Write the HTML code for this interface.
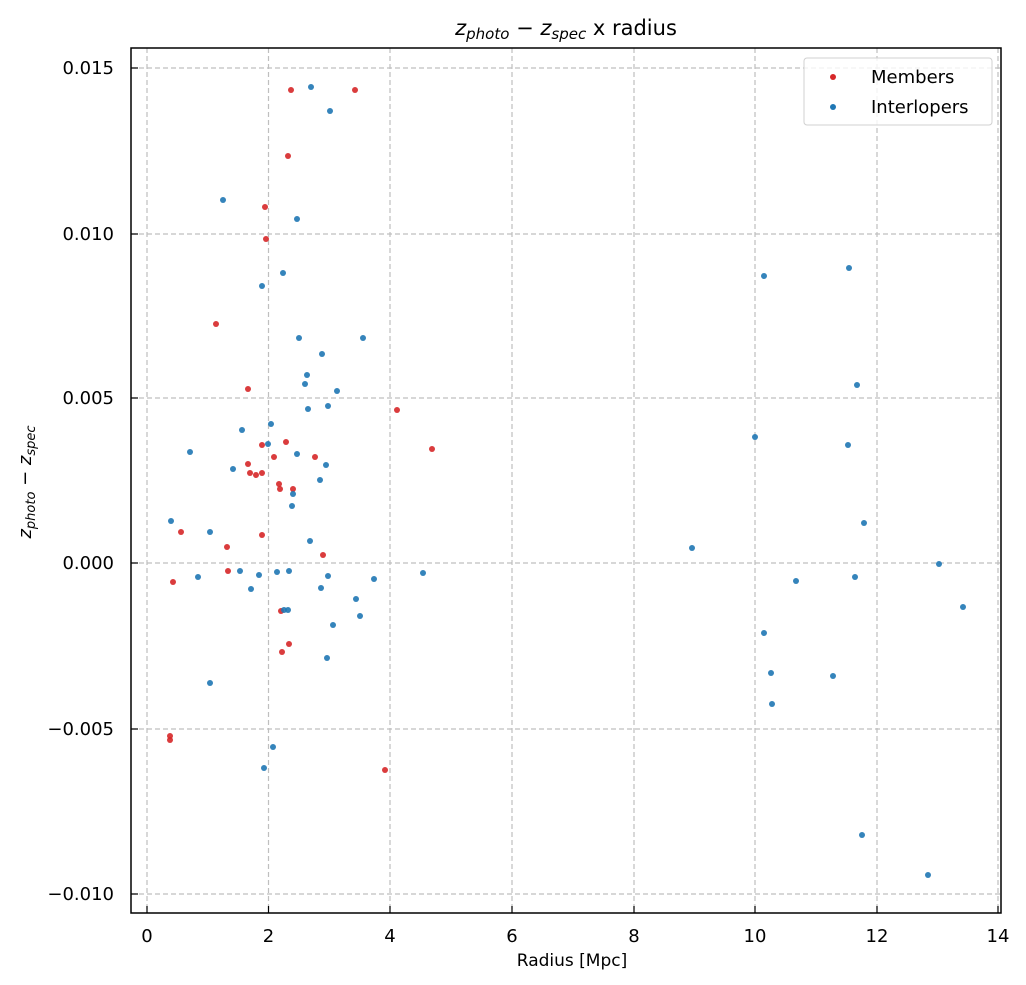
<!DOCTYPE html>
<html><head><meta charset="utf-8"><style>body{margin:0;background:#fff}svg{display:block}text{font-family:"DejaVu Sans","Liberation Sans",sans-serif;fill:#000}</style></head><body>
<svg width="1026" height="985" viewBox="0 0 1026 985" xmlns="http://www.w3.org/2000/svg">
<rect width="1026" height="985" fill="#fff"/>
<g stroke="#bfbfbf" stroke-width="1.2" stroke-dasharray="5,3">
<line x1="147" y1="48" x2="147" y2="913"/><line x1="268.5" y1="48" x2="268.5" y2="913"/><line x1="390" y1="48" x2="390" y2="913"/><line x1="512" y1="48" x2="512" y2="913"/><line x1="634" y1="48" x2="634" y2="913"/><line x1="755" y1="48" x2="755" y2="913"/><line x1="877" y1="48" x2="877" y2="913"/><line x1="998" y1="48" x2="998" y2="913"/>
<line x1="131" y1="68" x2="1001" y2="68"/><line x1="131" y1="234" x2="1001" y2="234"/><line x1="131" y1="398" x2="1001" y2="398"/><line x1="131" y1="563" x2="1001" y2="563"/><line x1="131" y1="729" x2="1001" y2="729"/><line x1="131" y1="894" x2="1001" y2="894"/>
</g>
<g fill="#d62728" fill-opacity="0.9">
<circle cx="291" cy="90" r="3"/><circle cx="355" cy="90" r="3"/><circle cx="288" cy="156" r="3"/><circle cx="265" cy="207" r="3"/><circle cx="266" cy="239" r="3"/><circle cx="216" cy="324" r="3"/><circle cx="248" cy="389" r="3"/><circle cx="397" cy="410" r="3"/><circle cx="432" cy="449" r="3"/><circle cx="262" cy="445" r="3"/><circle cx="286" cy="442" r="3"/><circle cx="274" cy="457" r="3"/><circle cx="315" cy="457" r="3"/><circle cx="248" cy="464" r="3"/><circle cx="250" cy="473" r="3"/><circle cx="256" cy="475" r="3"/><circle cx="262" cy="473" r="3"/><circle cx="279" cy="484" r="3"/><circle cx="280" cy="489" r="3"/><circle cx="293" cy="489" r="3"/><circle cx="262" cy="535" r="3"/><circle cx="227" cy="547" r="3"/><circle cx="181" cy="532" r="3"/><circle cx="323" cy="555" r="3"/><circle cx="228" cy="571" r="3"/><circle cx="173" cy="582" r="3"/><circle cx="281" cy="611" r="3"/><circle cx="289" cy="644" r="3"/><circle cx="282" cy="652" r="3"/><circle cx="170" cy="736" r="3"/><circle cx="170" cy="740" r="3"/><circle cx="385" cy="770" r="3"/>
</g>
<g fill="#1f77b4" fill-opacity="0.9">
<circle cx="311" cy="87" r="3"/><circle cx="330" cy="111" r="3"/><circle cx="223" cy="200" r="3"/><circle cx="297" cy="219" r="3"/><circle cx="283" cy="273" r="3"/><circle cx="262" cy="286" r="3"/><circle cx="299" cy="338" r="3"/><circle cx="363" cy="338" r="3"/><circle cx="322" cy="354" r="3"/><circle cx="307" cy="375" r="3"/><circle cx="305" cy="384" r="3"/><circle cx="337" cy="391" r="3"/><circle cx="328" cy="406" r="3"/><circle cx="308" cy="409" r="3"/><circle cx="242" cy="430" r="3"/><circle cx="271" cy="424" r="3"/><circle cx="190" cy="452" r="3"/><circle cx="268" cy="444" r="3"/><circle cx="297" cy="454" r="3"/><circle cx="326" cy="465" r="3"/><circle cx="233" cy="469" r="3"/><circle cx="320" cy="480" r="3"/><circle cx="293" cy="494" r="3"/><circle cx="292" cy="506" r="3"/><circle cx="171" cy="521" r="3"/><circle cx="210" cy="532" r="3"/><circle cx="310" cy="541" r="3"/><circle cx="198" cy="577" r="3"/><circle cx="240" cy="571" r="3"/><circle cx="259" cy="575" r="3"/><circle cx="277" cy="572" r="3"/><circle cx="289" cy="571" r="3"/><circle cx="251" cy="589" r="3"/><circle cx="328" cy="576" r="3"/><circle cx="321" cy="588" r="3"/><circle cx="374" cy="579" r="3"/><circle cx="423" cy="573" r="3"/><circle cx="356" cy="599" r="3"/><circle cx="360" cy="616" r="3"/><circle cx="284" cy="610" r="3"/><circle cx="288" cy="610" r="3"/><circle cx="333" cy="625" r="3"/><circle cx="327" cy="658" r="3"/><circle cx="210" cy="683" r="3"/><circle cx="273" cy="747" r="3"/><circle cx="264" cy="768" r="3"/>
<circle cx="849" cy="268" r="3"/><circle cx="764" cy="276" r="3"/><circle cx="857" cy="385" r="3"/><circle cx="755" cy="437" r="3"/><circle cx="848" cy="445" r="3"/><circle cx="864" cy="523" r="3"/><circle cx="692" cy="548" r="3"/><circle cx="855" cy="577" r="3"/><circle cx="796" cy="581" r="3"/><circle cx="939" cy="564" r="3"/><circle cx="963" cy="607" r="3"/><circle cx="764" cy="633" r="3"/><circle cx="771" cy="673" r="3"/><circle cx="833" cy="676" r="3"/><circle cx="772" cy="704" r="3"/><circle cx="862" cy="835" r="3"/><circle cx="928" cy="875" r="3"/>
</g>
<rect x="131" y="48" width="870" height="865" fill="none" stroke="#000" stroke-width="1.5"/>
<g stroke="#000" stroke-width="1.2">
<line x1="147" y1="913" x2="147" y2="906"/><line x1="268.5" y1="913" x2="268.5" y2="906"/><line x1="390" y1="913" x2="390" y2="906"/><line x1="512" y1="913" x2="512" y2="906"/><line x1="634" y1="913" x2="634" y2="906"/><line x1="755" y1="913" x2="755" y2="906"/><line x1="877" y1="913" x2="877" y2="906"/><line x1="998" y1="913" x2="998" y2="906"/>
<line x1="131" y1="68" x2="138" y2="68"/><line x1="131" y1="234" x2="138" y2="234"/><line x1="131" y1="398" x2="138" y2="398"/><line x1="131" y1="563" x2="138" y2="563"/><line x1="131" y1="729" x2="138" y2="729"/><line x1="131" y1="894" x2="138" y2="894"/>
</g>
<g font-size="18" text-anchor="middle">
<text x="147" y="942">0</text><text x="268.5" y="942">2</text><text x="390" y="942">4</text><text x="512" y="942">6</text><text x="634" y="942">8</text><text x="755" y="942">10</text><text x="877" y="942">12</text><text x="998" y="942">14</text>
</g>
<g font-size="18" text-anchor="end">
<text x="114" y="74">0.015</text><text x="114" y="240">0.010</text><text x="114" y="404">0.005</text><text x="114" y="569">0.000</text><text x="114" y="735">−0.005</text><text x="114" y="900">−0.010</text>
</g>
<text x="572" y="966" font-size="17" text-anchor="middle">Radius [Mpc]</text>
<text x="566" y="35" font-size="21" text-anchor="middle"><tspan font-style="italic">z</tspan><tspan font-style="italic" font-size="15" dy="4">photo</tspan><tspan dy="-4"> − </tspan><tspan font-style="italic">z</tspan><tspan font-style="italic" font-size="15" dy="4">spec</tspan><tspan dy="-4"> x radius</tspan></text>
<text transform="translate(31,482) rotate(-90)" font-size="18" text-anchor="middle"><tspan font-style="italic">z</tspan><tspan font-style="italic" font-size="13" dy="4">photo</tspan><tspan dy="-4"> − </tspan><tspan font-style="italic">z</tspan><tspan font-style="italic" font-size="13" dy="4">spec</tspan></text>
<rect x="804" y="58" width="188" height="67" rx="3" fill="#fff" fill-opacity="0.8" stroke="#d0d0d0"/>
<circle cx="833" cy="77" r="3" fill="#d62728"/><circle cx="833" cy="107" r="3" fill="#1f77b4"/>
<text x="871" y="83" font-size="18">Members</text><text x="871" y="113" font-size="18">Interlopers</text>
</svg>
</body></html>
